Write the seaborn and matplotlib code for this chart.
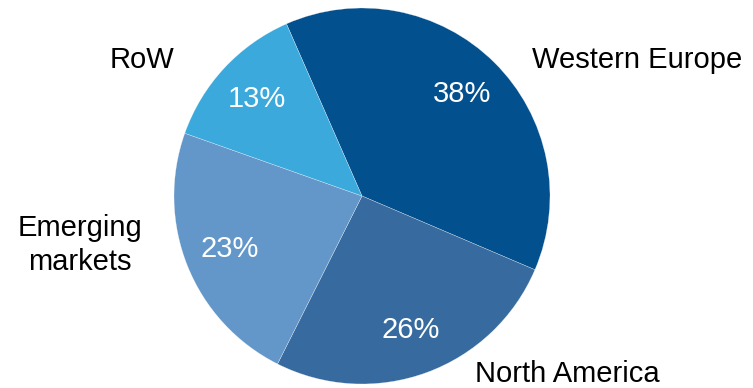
import matplotlib
matplotlib.use("Agg")
import matplotlib.pyplot as plt
import seaborn as sns

regions = ["Western Europe", "North America", "Emerging\nmarkets", "RoW"]
shares = [38, 26, 23, 13]
colors = ["#03508F", "#376A9E", "#6397C9", "#3BA9DC"]

sns.set_theme(style="white")
plt.rcParams["font.family"] = ["Liberation Sans", "DejaVu Sans"]

fig = plt.figure(figsize=(7.53, 3.88), dpi=100)
ax = fig.add_axes([0, 0, 1, 1])

wedges, _, autotexts = ax.pie(
    shares,
    colors=sns.color_palette(colors),
    startangle=113.7,
    counterclock=False,
    autopct=lambda p: f"{p:.0f}%",
    pctdistance=0.76,
    wedgeprops=dict(edgecolor=(1, 1, 1, 0.6), linewidth=0.3),
    textprops=dict(color="white", fontsize=21),
)

# category names placed around the pie
label_pos = [(1.463, 0.723), (1.090, -0.947), (-1.50, -0.261), (-1.17, 0.723)]
for name, (lx, ly) in zip(regions, label_pos):
    ax.text(lx, ly, name, ha="center", va="center", fontsize=21,
            color="black", linespacing=1.25)

ax.set_xlim(-1.9255, 2.0798)
ax.set_ylim(-1.0213, 1.0426)
ax.set_aspect("auto")
ax.axis("off")

fig.savefig("out.png", dpi=100)
